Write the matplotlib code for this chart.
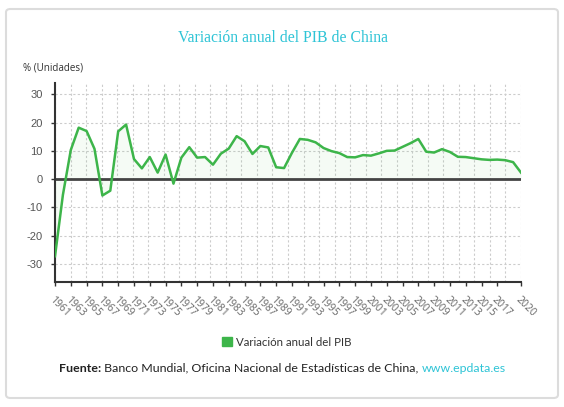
import matplotlib
import matplotlib.pyplot as plt
import numpy as np
from matplotlib.patches import FancyBboxPatch, Patch

matplotlib.use('Agg')

# Datos: variación anual del PIB de China (%)
years = list(range(1961, 2021))
gdp_growth = [
    -27.3, -5.6, 10.3, 18.2, 17.0, 10.7, -5.8, -4.1, 16.9, 19.3,
    7.1, 3.8, 7.8, 2.3, 8.7, -1.6, 7.6, 11.3, 7.6, 7.8,
    5.1, 9.0, 10.8, 15.2, 13.4, 8.9, 11.7, 11.2, 4.2, 3.9,
    9.3, 14.2, 13.9, 13.0, 11.0, 9.9, 9.2, 7.8, 7.7, 8.5,
    8.3, 9.1, 10.0, 10.1, 11.4, 12.7, 14.2, 9.7, 9.4, 10.6,
    9.6, 7.9, 7.8, 7.4, 7.0, 6.8, 6.9, 6.7, 6.0, 2.3,
]
tick_years = list(range(1961, 2018, 2)) + [2020]
y_ticks = [-30, -20, -10, 0, 10, 20, 30]

TITLE = 'Variación anual del PIB de China'
Y_LABEL = '% (Unidades)'
SERIES_LABEL = 'Variación anual del PIB'

GREEN = '#3db54a'
CYAN = '#2ec4d6'
GRAY_TEXT = '#555555'

fig = plt.figure(figsize=(5.64, 4.07), dpi=100)
fig.patch.set_facecolor('white')

# Card border
card = FancyBboxPatch((6 / 564, 1 - 398 / 407), 552 / 564, 389 / 407,
                      boxstyle='round,pad=0,rounding_size=0.008',
                      transform=fig.transFigure, facecolor='white',
                      edgecolor='#dcdcdc', linewidth=1.5, zorder=-10)
fig.patches.append(card)

ax = fig.add_axes([55 / 564, 1 - 282 / 407, 466 / 564, 199 / 407])
ax.set_facecolor('none')

# Grid (30 equal columns, horizontal every 10)
for gx in np.linspace(years[0], years[-1], 31):
    ax.axvline(gx, color='#cccccc', linestyle=(0, (2, 2)), linewidth=0.8, zorder=0)
for gy in y_ticks:
    ax.axhline(gy, color='#cccccc', linestyle=(0, (2, 2)), linewidth=0.8, zorder=0)

ax.fill_between(years, gdp_growth, 0, color=GREEN, alpha=0.05, linewidth=0, zorder=1)
ax.axhline(0, color='#444444', linewidth=2, zorder=2)
ax.plot(years, gdp_growth, color=GREEN, linewidth=1.8, zorder=3)

ax.set_xlim(years[0], years[-1])
ax.set_ylim(-36.4, 34)

ax.set_yticks(y_ticks)
ax.set_yticklabels([str(v) for v in y_ticks], fontsize=8, color=GRAY_TEXT,
                   family='Liberation Sans')
ax.set_xticks(tick_years)
ax.set_xticklabels([str(y) for y in tick_years], fontsize=7.5, color='#666666',
                   family='Open Sans', rotation=-45, ha='left', va='top',
                   rotation_mode='anchor')
ax.tick_params(axis='x', length=3, width=1, color='#333333', pad=6)
ax.tick_params(axis='y', length=3, width=1, color='#333333', pad=6)

for side in ['top', 'right']:
    ax.spines[side].set_visible(False)
ax.spines['left'].set_color('#333333')
ax.spines['left'].set_linewidth(1.5)
ax.spines['bottom'].set_color('#333333')
ax.spines['bottom'].set_linewidth(1.5)

# Title and axis unit label
fig.text(283 / 564, 1 - 38 / 407, TITLE, ha='center', va='center',
         fontsize=11.3, color=CYAN, family='Liberation Serif')
fig.text(23 / 564, 1 - 68 / 407, Y_LABEL, ha='left', va='center',
         fontsize=7.1, color='#333333', family='Open Sans')

# Legend
fig.legend(handles=[Patch(facecolor=GREEN, edgecolor=GREEN, label=SERIES_LABEL)],
           loc='center', bbox_to_anchor=(287 / 564, 1 - 342 / 407),
           frameon=False, handlelength=0.8, handleheight=0.8,
           handletextpad=0.4, prop={'family': 'Lato', 'size': 8.3}, labelcolor='#333333')

# Footer with mixed styles
renderer = fig.canvas.get_renderer()
x = 59 / 564
y = 1 - 368 / 407
parts = [
    ('Fuente:', 'bold', '#222222'),
    (' Banco Mundial, Oficina Nacional de Estadísticas de China, ', 'normal', '#222222'),
    ('www.epdata.es', 'normal', CYAN),
]
for txt, weight, color in parts:
    t = fig.text(x, y, txt, ha='left', va='center', fontsize=8.95,
                 fontweight=weight, color=color, family='Lato')
    bb = t.get_window_extent(renderer=renderer)
    x += bb.width / fig.bbox.width

fig.savefig('out.png', dpi=100)
